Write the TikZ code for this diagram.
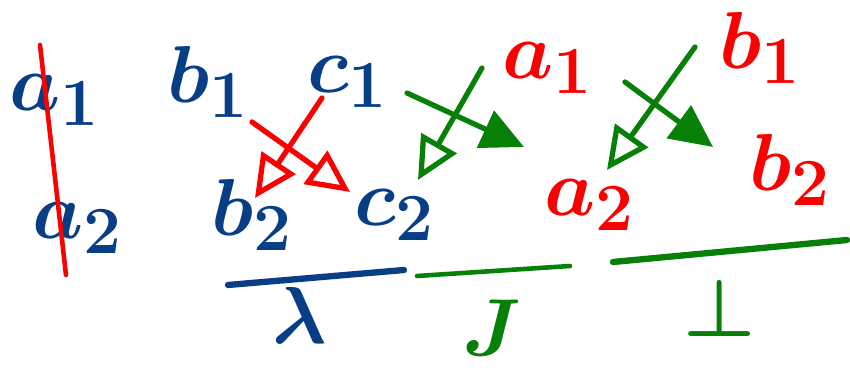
\documentclass[tikz,border=0pt]{standalone}
\usepackage{amsmath,amssymb}
\usepackage{tikz}
\usetikzlibrary{arrows.meta,calc,positioning}
\definecolor{inkblue}{RGB}{8,62,134}
\definecolor{inkred}{RGB}{250,0,0}
\definecolor{inkgreen}{RGB}{6,128,6}
\tikzset{
  basetxt/.style={inner sep=0pt,font=\Huge\boldmath,scale=1.85},
  bluelbl/.style={basetxt,text=inkblue},
  redlbl/.style={basetxt,text=inkred},
  greenlbl/.style={basetxt,text=inkgreen},
  redarr/.style={-{Triangle[open,length=8.5mm,width=8mm]},line width=3pt,color=inkred,line cap=round},
  greenarr/.style={-{Triangle[open,length=8.5mm,width=8mm]},line width=3pt,color=inkgreen,line cap=round},
  greenfillarr/.style={-{Triangle[length=8.5mm,width=8mm]},line width=3pt,color=inkgreen,line cap=round},
  rulebar/.style={line width=3.6pt,line cap=round},
  strike/.style={line width=2.6pt,color=inkred,line cap=round}
}
\begin{document}
\begin{tikzpicture}[x=0.02cm,y=-0.02cm]
  \useasboundingbox (0,0) rectangle (850,374);
  % blue sequent
  \node[bluelbl] (a1) at (55,100) {$a_1$};
  \node[bluelbl] (a2) at (78,228) {$a_2$};
  \node[bluelbl] (b1) at (208,82) {$b_1$};
  \node[bluelbl] (c1) at (348,82) {$c_1$};
  \node[bluelbl] (b2) at (252,215) {$b_2$};
  \node[bluelbl] (c2) at (395,215) {$c_2$};
  % red sequent
  \node[redlbl] (ra1) at (548,68) {$a_1$};
  \node[redlbl] (ra2) at (590,205) {$a_2$};
  \node[redlbl] (rb1) at (760,48) {$b_1$};
  \node[redlbl] (rb2) at (790,170) {$b_2$};
  % rule labels
  \node[bluelbl] (lam) at (300,315) {$\lambda$};
  \node[greenlbl] (jay) at (492,328) {$J$};
  \node[greenlbl] (bot) at (720,308) {$\bot$};
  % rules
  \coordinate (lamL) at (228,285); \coordinate (lamR) at (404,270);
  \coordinate (jayL) at (417,276); \coordinate (jayR) at (570,266);
  \coordinate (botL) at (613,262); \coordinate (botR) at (847,240);
  \draw[rulebar,inkblue] (lamL) -- (lamR);
  \draw[rulebar,inkgreen,line width=2.6pt] (jayL) -- (jayR);
  \draw[rulebar,inkgreen] (botL) -- (botR);
  % crossed out
  \coordinate (cutT) at (40,45); \coordinate (cutB) at (66,275);
  \draw[strike] (cutT) -- (cutB);
  % exchanges
  \draw[redarr] ($(c1)+(-26,16)$) -- ($(b2)+(3,-17)$);
  \draw[redarr] ($(b1)+(44,40)$) -- ($(c2)+(-45,-23)$);
  \draw[greenarr] ($(ra1)+(-66,0)$) -- ($(c2)+(23,-35)$);
  \draw[greenfillarr] ($(c1)+(59,11)$) -- ($(ra2)+(-66,-58)$);
  \draw[greenarr] ($(rb1)+(-65,-1)$) -- ($(ra2)+(17,-35)$);
  \draw[greenfillarr] ($(ra1)+(77,14)$) -- ($(rb2)+(-77,-23)$);
\end{tikzpicture}
\end{document}
